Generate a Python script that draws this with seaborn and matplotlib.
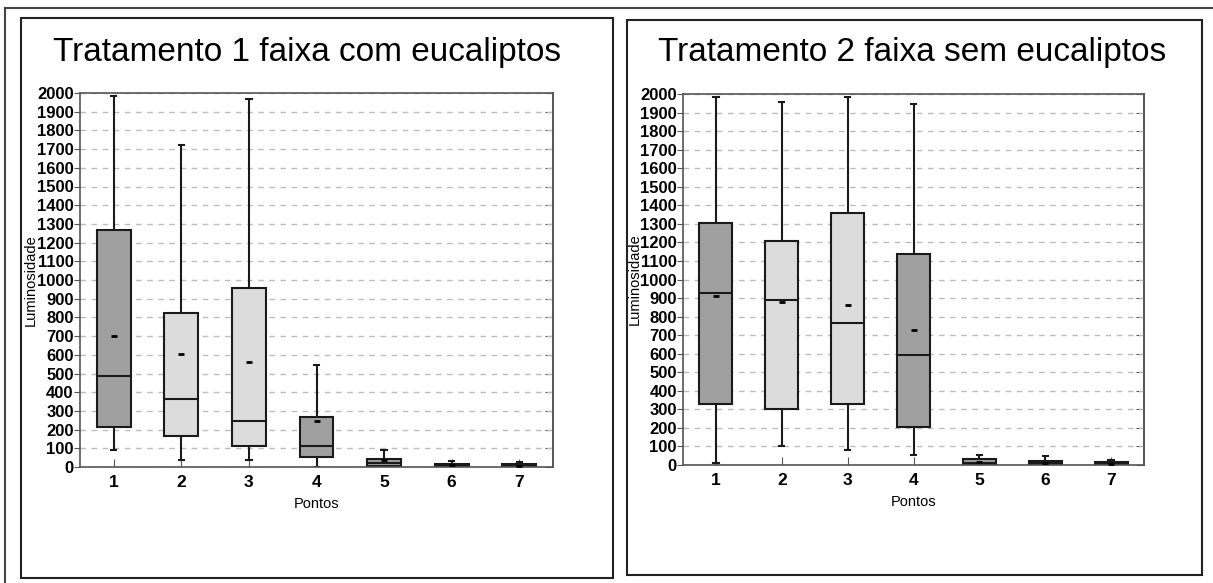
import pandas as pd
import seaborn as sns
import matplotlib.pyplot as plt
from matplotlib.patches import Rectangle
from matplotlib.lines import Line2D

plt.rcParams['font.family'] = ['Liberation Sans', 'DejaVu Sans']

# ==================== dados ====================
PONTOS = ['1', '2', '3', '4', '5', '6', '7']
YTICKS = list(range(0, 2001, 100))

# Tratamento 1 - faixa com eucaliptos
t1_min = [89, 39, 39, 0, 0, 0, 0]
t1_q1 = [214, 166, 110, 53, 3, 2, 2]
t1_med = [487, 365, 246, 110, 22, 5, 5]
t1_q3 = [1269, 825, 959, 267, 43, 14, 14]
t1_max = [1984, 1720, 1966, 547, 91, 32, 25]
t1_media = [699, 602, 561, 246, 36, 9, 8]

# Tratamento 2 - faixa sem eucaliptos
t2_min = [13, 102, 81, 54, 0, 0, 0]
t2_q1 = [327, 300, 327, 207, 2, 2, 2]
t2_med = [929, 888, 765, 591, 12, 10, 5]
t2_q3 = [1303, 1206, 1358, 1135, 32, 23, 14]
t2_max = [1986, 1959, 1986, 1944, 54, 49, 27]
t2_media = [911, 880, 862, 728, 15, 12, 8]

TITULOS = ['Tratamento 1 faixa com eucaliptos', 'Tratamento 2 faixa sem eucaliptos']

# cores das caixas (cinza escuro / cinza claro)
CORES = ['#a0a0a0', '#dcdcdc', '#dcdcdc', '#a0a0a0', '#a0a0a0', '#a0a0a0', '#a0a0a0']

W, H = 1213, 583


def monta_df(mins, q1s, meds, q3s, maxs):
    # 5 valores por ponto -> seaborn calcula Q1, mediana, Q3 e whiskers (min/max)
    linhas = []
    for p, a, b, c, d, e in zip(PONTOS, mins, q1s, meds, q3s, maxs):
        for v in (a, b, c, d, e):
            linhas.append({'Pontos': p, 'Luminosidade': v})
    return pd.DataFrame(linhas)


fig = plt.figure(figsize=(W / 100, H / 100), dpi=100)

# moldura externa e molduras dos paineis
fig.add_artist(Line2D([5 / W, 5 / W], [0, 1 - 8 / H], color='#444444', lw=1.5))
fig.add_artist(Line2D([5 / W, 1], [1 - 8 / H, 1 - 8 / H], color='#444444', lw=1.5))
fig.add_artist(Rectangle((21 / W, 1 - 578 / H), 592 / W, 560 / H, fill=False,
                         edgecolor='#222222', lw=1.5, transform=fig.transFigure))
fig.add_artist(Rectangle((627 / W, 1 - 575 / H), 575 / W, 555 / H, fill=False,
                         edgecolor='#222222', lw=1.5, transform=fig.transFigure))

ax1 = fig.add_axes([80 / W, 1 - 467 / H, 473 / W, 374 / H])
ax2 = fig.add_axes([683 / W, 1 - 465 / H, 461 / W, 371 / H])

paineis = [
    (ax1, monta_df(t1_min, t1_q1, t1_med, t1_q3, t1_max), t1_media, 307, -0.089),
    (ax2, monta_df(t2_min, t2_q1, t2_med, t2_q3, t2_max), t2_media, 912, -0.089),
]

for i, (ax, df, medias, xt, ylab_x) in enumerate(paineis):
    sns.boxplot(data=df, x='Pontos', y='Luminosidade', hue='Pontos', order=PONTOS,
                hue_order=PONTOS, palette=dict(zip(PONTOS, CORES)), legend=False,
                width=0.5, whis=(0, 100), showfliers=False, linewidth=1.5,
                linecolor='#1a1a1a', capwidths=0.08, ax=ax)
    # media como tracinho
    sns.stripplot(x=PONTOS, y=medias, order=PONTOS, jitter=False, marker='_',
                  color='black', size=5, linewidth=2, ax=ax)

    ax.set_ylim(0, 2000)
    ax.set_xlim(-0.5, 6.5)
    ax.set_yticks(YTICKS, labels=[str(v) for v in YTICKS], fontsize=12, fontweight='bold')
    ax.set_xticks(range(len(PONTOS)), labels=PONTOS, fontsize=12.5, fontweight='bold')
    ax.yaxis.grid(True, linestyle=(0, (4, 4)), color='#bdbdbd', linewidth=1)
    ax.set_axisbelow(True)
    for s in ax.spines.values():
        s.set_color('#555555')
        s.set_linewidth(1.2)
    ax.tick_params(axis='y', direction='out', length=4, pad=0.5, color='#555555')
    ax.tick_params(axis='x', direction='in', length=6, pad=6, color='#555555')

    sec = ax.secondary_yaxis('right')
    sec.set_yticks(YTICKS)
    sec.tick_params(direction='in', length=6, labelright=False, color='#555555')
    sec.spines['right'].set_color('#555555')
    sec.spines['right'].set_linewidth(1.2)

    ax.set_ylabel('Luminosidade', fontsize=10.5)
    ax.yaxis.set_label_coords(ylab_x, 0.5)
    ax.set_xlabel('Pontos', fontsize=10.5, labelpad=5)

    fig.text(xt / W, 1 - 52 / H, TITULOS[i], ha='center', va='center', fontsize=24)

plt.savefig('out.png', dpi=100)
